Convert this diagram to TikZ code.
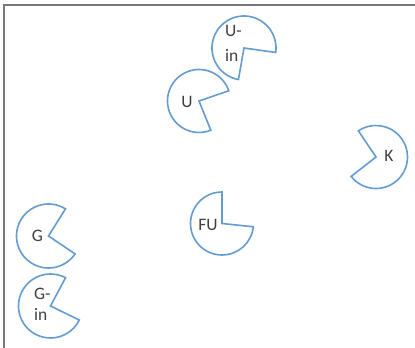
\documentclass[tikz,border=0pt]{standalone}
\usepackage{fontspec}
\setmainfont{Carlito}
\definecolor{pacblue}{RGB}{100,156,210}
\definecolor{txtgray}{RGB}{64,64,64}
\definecolor{framegray}{RGB}{120,120,120}
\begin{document}
\begin{tikzpicture}[x=1bp,y=1bp,
  pac/.style={draw=pacblue,line width=1.6bp,fill=white,line join=miter},
  lbl/.style={text=txtgray,inner sep=0pt,font=\fontsize{17.5bp}{20bp}\selectfont},
  frameline/.style={draw=framegray,line width=1.5bp}]
\useasboundingbox (0,0) rectangle (415,348);
\fill[white] (0,0) rectangle (415,348);
\coordinate (fa) at (4,0);
\coordinate (fb) at (4,343);
\coordinate (fc) at (415,343);
\draw[frameline] (fa) -- (fb) -- (fc);
% pac-man shapes: centre, radius, body arc
\coordinate (cuin) at (244,300);
\draw[pac] (cuin) -- ++(-8:32) arc[start angle=-8,end angle=260,radius=32] -- cycle;
\coordinate (cu) at (199,247);
\draw[pac] (cu) -- ++(19:31.5) arc[start angle=19,end angle=292,radius=31.5] -- cycle;
\coordinate (ck) at (376,191);
\draw[pac] (ck) -- ++(218:31.5) arc[start angle=218,end angle=484,radius=31.5] -- cycle;
\coordinate (cfu) at (222,124.5);
\draw[pac] (cfu) -- ++(90:31.5) arc[start angle=90,end angle=354,radius=31.5] -- cycle;
\coordinate (cg) at (48.5,112);
\draw[pac] (cg) -- ++(58:32) arc[start angle=58,end angle=326,radius=32] -- cycle;
\coordinate (cgin) at (50.5,42);
\draw[pac] (cgin) -- ++(62:32) arc[start angle=62,end angle=334,radius=32] -- cycle;
% labels
\node[lbl,anchor=base west,align=left,font=\fontsize{17.5bp}{25bp}\selectfont] (tuin) at (225,287) {U-\\in};
\node[lbl,anchor=base] (tu) at (187,241) {U};
\node[lbl,anchor=base] (tk) at (389,187) {K};
\node[lbl,anchor=base] (tfu) at (208,118) {FU};
\node[lbl,anchor=base] (tg) at (37.5,107) {G};
\node[lbl,anchor=base west,align=left,font=\fontsize{17.5bp}{21.5bp}\selectfont] (tgin) at (34,27.5) {G-\\in};
\end{tikzpicture}
\end{document}
